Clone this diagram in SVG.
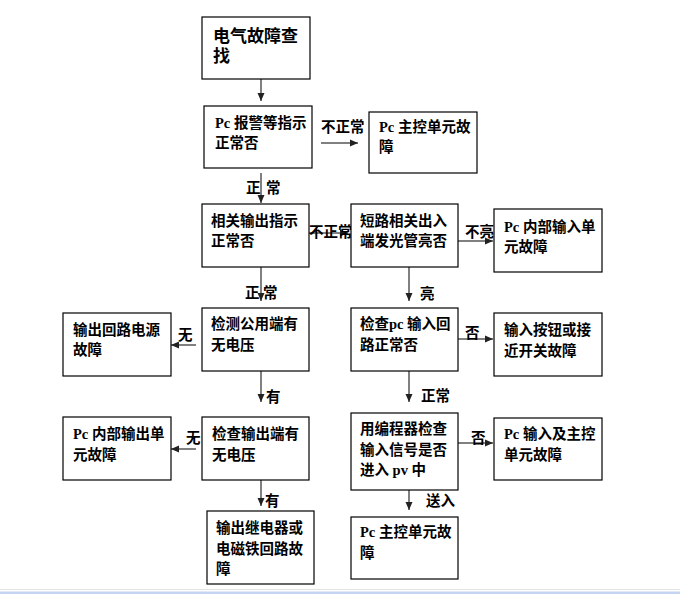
<svg xmlns="http://www.w3.org/2000/svg" width="680" height="594" viewBox="0 0 680 594">
<style>
.box{fill:#fff;stroke:#000;stroke-width:1.2}
.t{font-family:"Liberation Serif","Noto Sans CJK SC",serif;font-size:14.5px;font-weight:bold;fill:#000}
.big{font-size:17px}
.c{stroke:#808080;stroke-width:2;fill:none;marker-end:url(#ah)}
</style>
<defs>
<marker id="ah" markerUnits="userSpaceOnUse" markerWidth="8" markerHeight="8" viewBox="0 0 8 8" refX="8" refY="4" orient="auto">
<path d="M0,0.5 L8,4 L0,7.5 z" fill="#222"/>
</marker>
</defs>
<rect width="680" height="594" fill="#fff"/>
<line x1="0" y1="589.5" x2="680" y2="589.5" stroke="#e2e2e2" stroke-width="1"/>
<rect x="0" y="591.5" width="680" height="2.5" fill="#c4d4f2"/>

<g id="connectors">
<line class="c" x1="261" y1="79" x2="261" y2="101"/>
<line class="c" x1="321" y1="143" x2="358" y2="143"/>
<line class="c" x1="261" y1="173" x2="261" y2="203"/>
<line class="c" x1="309" y1="233" x2="348" y2="233"/>
<line class="c" x1="458" y1="241" x2="493" y2="241"/>
<line class="c" x1="261" y1="267" x2="261" y2="301"/>
<line class="c" x1="409" y1="267" x2="409" y2="301"/>
<line class="c" x1="196" y1="345" x2="171" y2="345"/>
<line class="c" x1="458" y1="339" x2="493" y2="339"/>
<line class="c" x1="261" y1="371" x2="261" y2="402"/>
<line class="c" x1="409" y1="371" x2="409" y2="402"/>
<line class="c" x1="196" y1="449" x2="171" y2="449"/>
<line class="c" x1="458" y1="443" x2="493" y2="443"/>
<line class="c" x1="261" y1="480" x2="261" y2="506"/>
<line class="c" x1="409" y1="490" x2="409" y2="510"/>
<text class="t" x="321" y="132">不正常</text>
<text class="t" x="246" y="193">正</text>
<text class="t" x="266" y="193">常</text>
<text class="t" x="309" y="237">不正常</text>
<text class="t" x="465" y="237">不亮</text>
<text class="t" x="245" y="298">正</text>
<text class="t" x="263" y="298">常</text>
<text class="t" x="420" y="299">亮</text>
<text class="t" x="178" y="340">无</text>
<text class="t" x="465" y="338">否</text>
<text class="t" x="266" y="402">有</text>
<text class="t" x="421" y="401">正常</text>
<text class="t" x="186" y="443">无</text>
<text class="t" x="471" y="443">否</text>
<text class="t" x="265" y="506">有</text>
<text class="t" x="426" y="506">送入</text>
</g>

<g id="n1"><rect class="box" x="202" y="17" width="108" height="62"/>
<text class="t big" x="213" y="42">电气故障查</text><text class="t big" x="213" y="62">找</text></g>
<g id="n2"><rect class="box" x="204" y="106" width="108" height="62"/>
<text class="t" x="215" y="128">Pc 报警等指示</text><text class="t" x="215" y="148">正常否</text></g>
<g id="n3"><rect class="box" x="369" y="112" width="108" height="61"/>
<text class="t" x="379" y="132">Pc 主控单元故</text><text class="t" x="379" y="152">障</text></g>
<g id="n4"><rect class="box" x="202" y="204" width="107" height="63"/>
<text class="t" x="211" y="226">相关输出指示</text><text class="t" x="211" y="246">正常否</text></g>
<g id="n5"><rect class="box" x="351" y="204" width="107" height="63"/>
<text class="t" x="360" y="226">短路相关出入</text><text class="t" x="360" y="246">端发光管亮否</text></g>
<g id="n6"><rect class="box" x="494" y="209" width="108" height="63"/>
<text class="t" x="504" y="232">Pc 内部输入单</text><text class="t" x="504" y="252">元故障</text></g>
<g id="n7"><rect class="box" x="202" y="308" width="107" height="63"/>
<text class="t" x="211" y="329">检测公用端有</text><text class="t" x="211" y="350">无电压</text></g>
<g id="n8"><rect class="box" x="351" y="308" width="107" height="63"/>
<text class="t" x="360" y="329">检查pc 输入回</text><text class="t" x="360" y="350">路正常否</text></g>
<g id="n9"><rect class="box" x="494" y="313" width="108" height="63"/>
<text class="t" x="504" y="335">输入按钮或接</text><text class="t" x="504" y="356">近开关故障</text></g>
<g id="n10"><rect class="box" x="63" y="313" width="108" height="63"/>
<text class="t" x="73" y="335">输出回路电源</text><text class="t" x="73" y="355">故障</text></g>
<g id="n11"><rect class="box" x="202" y="417" width="107" height="63"/>
<text class="t" x="212" y="439">检查输出端有</text><text class="t" x="212" y="460">无电压</text></g>
<g id="n12"><rect class="box" x="63" y="417" width="108" height="63"/>
<text class="t" x="73" y="439">Pc 内部输出单</text><text class="t" x="73" y="460">元故障</text></g>
<g id="n13"><rect class="box" x="207" y="511" width="107" height="73"/>
<text class="t" x="216" y="533">输出继电器或</text><text class="t" x="216" y="554">电磁铁回路故</text><text class="t" x="216" y="574">障</text></g>
<g id="n14"><rect class="box" x="351" y="413" width="107" height="77"/>
<text class="t" x="360" y="434">用编程器检查</text><text class="t" x="360" y="455">输入信号是否</text><text class="t" x="360" y="475">进入 pv 中</text></g>
<g id="n15"><rect class="box" x="494" y="418" width="108" height="62"/>
<text class="t" x="504" y="439">Pc 输入及主控</text><text class="t" x="504" y="460">单元故障</text></g>
<g id="n16"><rect class="box" x="351" y="517" width="107" height="62"/>
<text class="t" x="360" y="537">Pc 主控单元故</text><text class="t" x="360" y="558">障</text></g>
</svg>
